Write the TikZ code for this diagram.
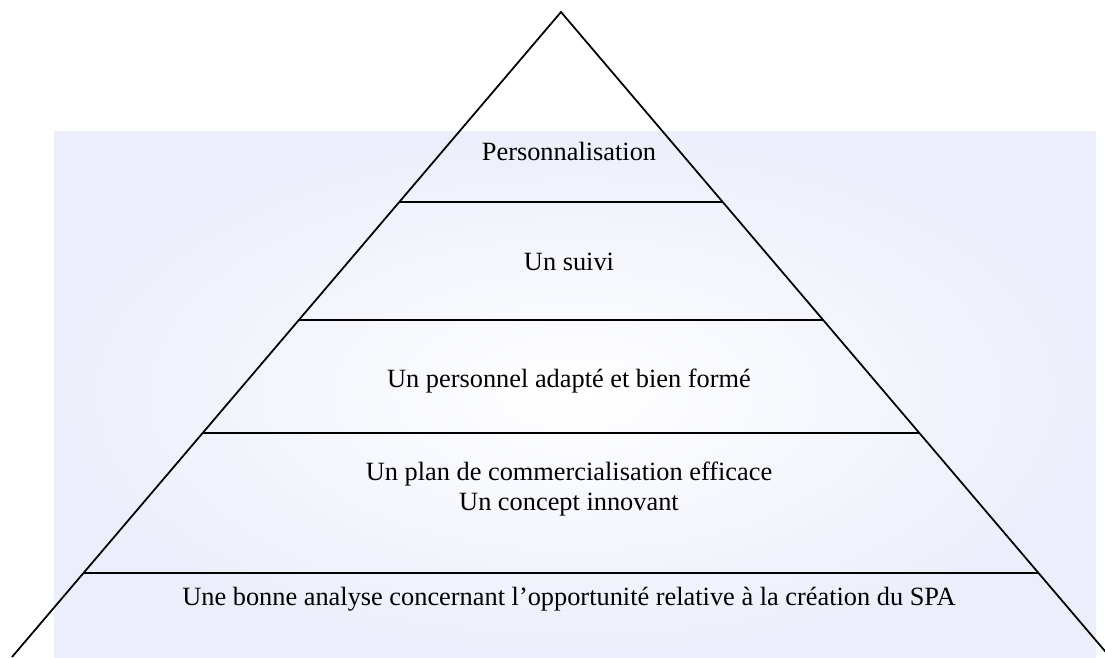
\documentclass[tikz,border=0pt]{standalone}
\usepackage{fontspec}
\setmainfont{Liberation Serif}
\usetikzlibrary{calc}
\definecolor{wash}{RGB}{236,239,251}
\tikzstyle{level}=[text centered, align=center,
  font=\fontsize{15}{17}\selectfont, inner sep=0pt]
\tikzstyle{edge}=[draw, line width=1pt]

\begin{document}
\begin{tikzpicture}[x=0.02cm,y=-0.02cm]
  \useasboundingbox (0,0) rectangle (1105,657);
  \shade[inner color=white, outer color=wash] (54,131) rectangle (1096,657);

  \coordinate (apex) at (561,12);
  \coordinate (baseL) at (12,657);
  \coordinate (baseR) at (1110,657);
  \draw[edge] (baseL) -- (apex) -- (baseR);

  \foreach \t/\n in {0.2946/a, 0.4775/b, 0.6527/c, 0.8698/d}{
    \draw[edge] ($(apex)!\t!(baseL)$) coordinate(\n L)
      -- ($(apex)!\t!(baseR)$) coordinate(\n R);
  }

  \node(perso)[level] at (569,151){Personnalisation};
  \node(suivi)[level] at (569,262){Un suivi};
  \node(staff)[level] at (569,381){Un personnel adapté et bien formé};
  \node(plan)[level] at (569,489){
    Un plan de commercialisation efficace\\
    Un concept innovant
  };
  \node(study)[level] at (569,599){Une bonne analyse concernant l’opportunité relative à la création du SPA};
\end{tikzpicture}
\end{document}
